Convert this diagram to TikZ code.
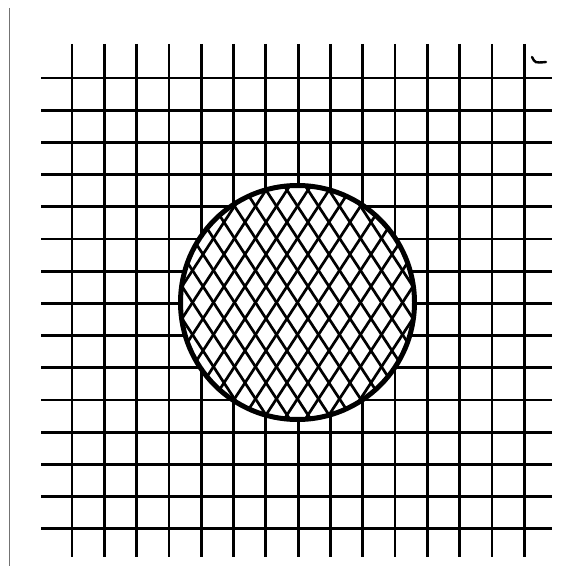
\documentclass[tikz,border=0pt]{standalone}
\usetikzlibrary{calc}

\begin{document}
\begin{tikzpicture}[x=1pt, y=-1pt,
    gridline/.style={line width=2.8pt, black},
    hatchline/.style={line width=2.7pt, black},
    rim/.style={line width=5pt, black}
  ]
  \useasboundingbox (0,0) rectangle (570,569);
  % scanned sheet edge
  \draw[line width=0.6pt, black!55] (9,8) -- (9,566);
  \draw[line width=2.4pt, line cap=round] (532,57) .. controls (535,63) .. (546,62);
  % square grid
  \foreach \i in {0,...,14} {
    \draw[gridline] (72+\i*32.3, 44) -- (72+\i*32.3, 557);
    \draw[gridline] (41, 78+\i*32.2) -- (552, 78+\i*32.2);
  }
  % hatched disc
  \coordinate (c) at (297.5,302.5);
  \fill[white] (c) circle (117pt);
  \begin{scope}
    \clip (c) circle (117pt);
    \foreach \k in {-18,...,18} {
      \draw[hatchline] ($(c)+(\k*21-85,130)$) -- ++(170,-260);
      \draw[hatchline] ($(c)+(\k*21+85,130)$) -- ++(-170,-260);
    }
  \end{scope}
  \draw[rim] (c) circle (117pt);
\end{tikzpicture}
\end{document}
